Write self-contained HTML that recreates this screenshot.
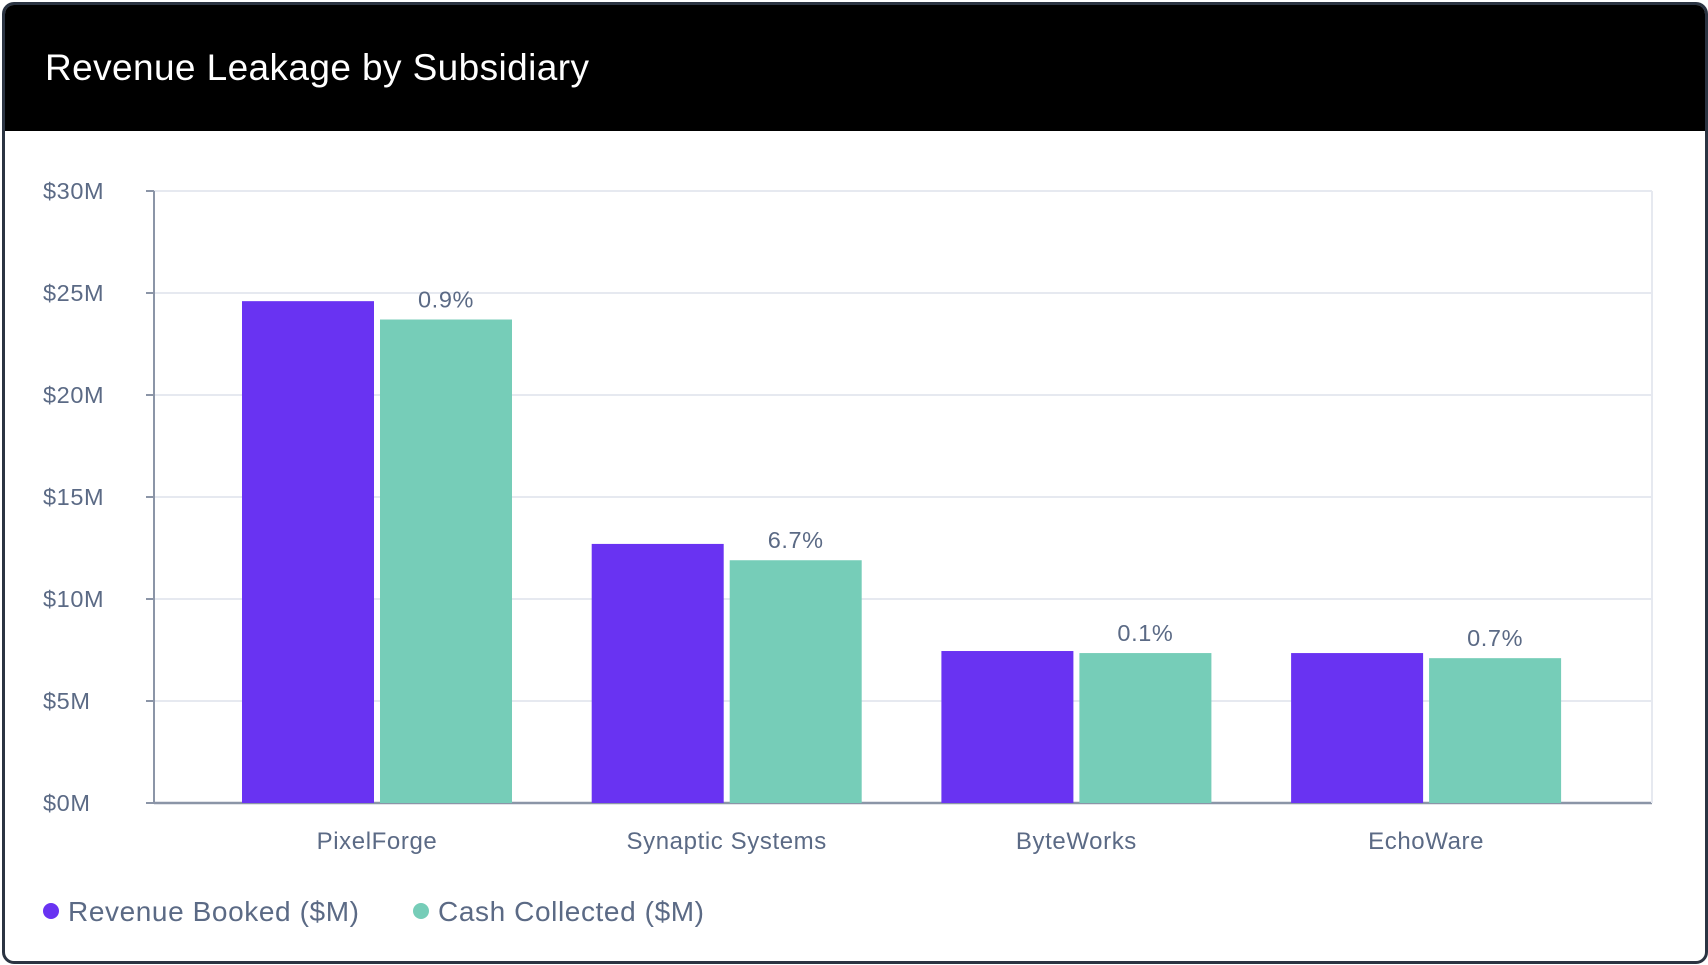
<!DOCTYPE html>
<html><head><meta charset="utf-8"><style>
html,body{margin:0;padding:0;background:#fff;}
body{width:1708px;height:965px;overflow:hidden;font-family:"Liberation Sans",sans-serif;}
#card{position:absolute;left:2px;top:2px;width:1700px;height:956px;border:3px solid #2b3442;border-radius:12px;overflow:hidden;background:#fff;}
#hdr{position:absolute;left:0;top:0;width:100%;height:126px;background:#000;}
#title{position:absolute;left:40px;top:42px;color:#fff;font-size:37px;letter-spacing:0.4px;}
svg{position:absolute;left:0;top:0;}
svg text{letter-spacing:0.6px;}
</style></head><body>
<div id="card">
<div id="hdr"><div id="title">Revenue Leakage by Subsidiary</div></div>
</div>
<svg id="chart" width="1708" height="965"></svg>
<script>
const categories=["PixelForge","Synaptic Systems","ByteWorks","EchoWare"];
const revenueBooked=[24.6,12.7,7.45,7.35];
const cashCollected=[23.7,11.9,7.35,7.1];
const leakageLabels=["0.9%","6.7%","0.1%","0.7%"];
const yTicks=[0,5,10,15,20,25,30];
const yTickLabels=["$0M","$5M","$10M","$15M","$20M","$25M","$30M"];
const NS="http://www.w3.org/2000/svg";
const svg=document.getElementById('chart');
const X0=154,X1=1652,Y0=803,Y1=191,YMAX=30;
const y=v=>Y0-(v/YMAX)*(Y0-Y1);
const cx=i=>377+349.7*i;
const BW=132,GAP=6;
function mk(t,a,txt){const e=document.createElementNS(NS,t);for(const k in a)e.setAttribute(k,a[k]);if(txt!=null)e.textContent=txt;svg.appendChild(e);return e;}
yTicks.forEach((t,i)=>{
 const g=mk('line',{x1:X0,x2:X1,y1:y(t),y2:y(t),stroke:i==0?'#8b95a7':'#e6e9f0','stroke-width':i==0?2.5:2});
 
 
 const tk=mk('line',{x1:146,x2:X0,y1:y(t),y2:y(t),stroke:'#8b95a7','stroke-width':2});
 
 
 const l=mk('text',{x:43,y:y(t)+8,fill:'#5b6a85','font-size':23.5},yTickLabels[i]);
 
 
});
const rb=mk('line',{x1:X1,x2:X1,y1:Y1,y2:Y0,stroke:'#e6e9f0','stroke-width':2});


const ya=mk('line',{x1:X0,x2:X0,y1:Y1,y2:Y0,stroke:'#8b95a7','stroke-width':2});


categories.forEach((c,i)=>{
 const b1=mk('rect',{x:cx(i)-GAP/2-BW,y:y(revenueBooked[i]),width:BW,height:Y0-y(revenueBooked[i]),fill:'#6933f2'});
 
 
 const b2=mk('rect',{x:cx(i)+GAP/2,y:y(cashCollected[i]),width:BW,height:Y0-y(cashCollected[i]),fill:'#76cdb8'});
 
 
 const p=mk('text',{x:cx(i)+GAP/2+BW/2,y:y(cashCollected[i])-12,fill:'#5b6a85','font-size':23.5,'text-anchor':'middle'},leakageLabels[i]);
 
 
 const xl=mk('text',{x:cx(i),y:849,fill:'#5b6a85','font-size':24,'text-anchor':'middle'},c);
 
 
});
const c1=mk('circle',{cx:51,cy:911,r:8,fill:'#6933f2'});


const t1=mk('text',{x:68,y:921,fill:'#5b6a85','font-size':28},'Revenue Booked ($M)');


const c2=mk('circle',{cx:421,cy:911,r:8,fill:'#76cdb8'});


const t2=mk('text',{x:438,y:921,fill:'#5b6a85','font-size':28},'Cash Collected ($M)');


</script>
</body></html>
